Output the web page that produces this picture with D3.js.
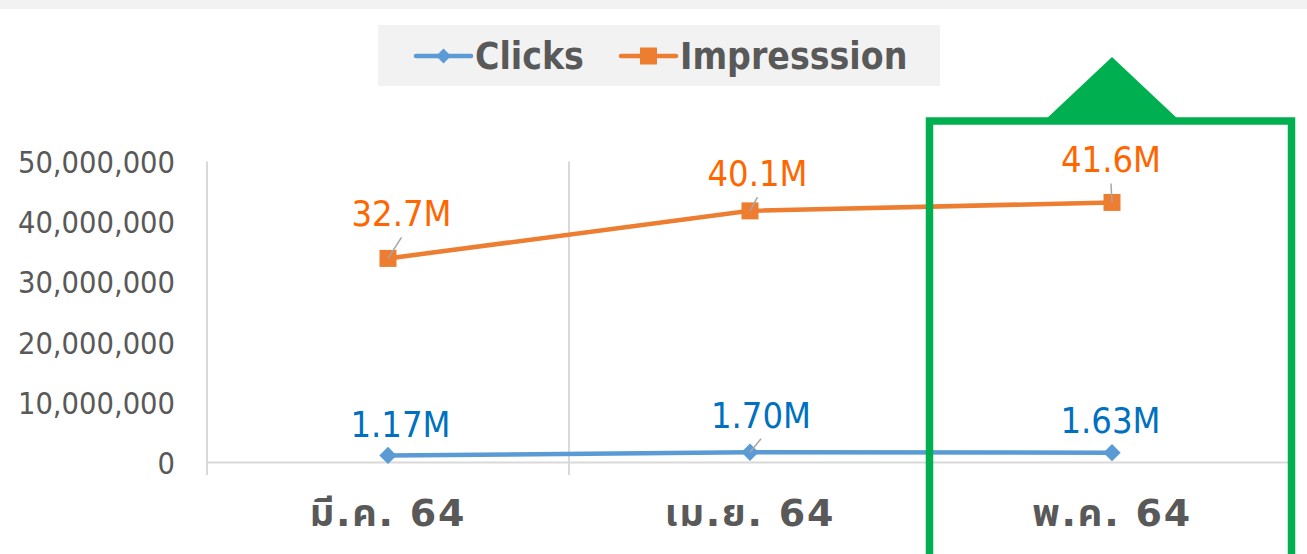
<!DOCTYPE html>
<html>
<head>
<meta charset="utf-8">
<script src="https://cdn.jsdelivr.net/npm/d3@7/dist/d3.min.js"></script>
<style>
  body { margin: 0; background: #fff; }
  svg { display: block; }
  .cond { font-family: "DejaVu Sans Condensed", "DejaVu Sans", sans-serif; font-stretch: condensed; }
</style>
</head>
<body>
<div class="chart"></div>
<script>
// DATA
const categories = ["มี.ค. 64", "เม.ย. 64", "พ.ค. 64"];
const clicks = [1170000, 1700000, 1630000];
const impressions = [33900000, 41800000, 43200000];
const clickLabels = ["1.17M", "1.70M", "1.63M"];
const impressionLabels = ["32.7M", "40.1M", "41.6M"];
const yTicks = [0, 10000000, 20000000, 30000000, 40000000, 50000000];
const seriesNames = ["Clicks", "Impresssion"];
const highlighted = "พ.ค. 64";

// label placement (offset from marker), leader line yes/no
const clickLabelPos = [[12.5, -18, false], [11, -24.6, true], [-1.5, -19.4, false]];
const imprLabelPos = [[13.5, -32, true], [7.5, -24.7, true], [-1, -30, true]];

const W = 1307, H = 554;
const blue = "#5b9bd5", orange = "#ed7d31";
const grid = "#d9d9d9", txt = "#595959";

let svg = d3.select(".chart").append("svg")
    .attr("width", W).attr("height", H);

// top grey band
svg.append("rect").attr("x", 0).attr("y", 0).attr("width", W).attr("height", 9).attr("fill", "#f2f2f2");

let xScale = d3.scaleBand().domain(categories).range([207, 1293]);
let yScale = d3.scaleLinear().domain([0, 50000000]).range([462.5, 161.5]);
let cx = d => xScale(d) + xScale.bandwidth() / 2;

// y axis labels
let yAxis = d3.axisLeft(yScale).tickValues(yTicks).tickSize(0).tickPadding(0)
    .tickFormat(d3.format(","));
let yAxisGroup = svg.append("g").attr("transform", "translate(175,0)").call(yAxis);
yAxisGroup.select(".domain").remove();
yAxisGroup.selectAll("text")
    .attr("class", "cond")
    .attr("font-size", 30.5)
    .attr("fill", txt)
    .attr("dy", "0.36em");

// vertical category lines (left axis + separators)
let bounds = categories.map(c => xScale(c));
svg.append("g").selectAll("line")
    .data(bounds)
    .join("line")
    .attr("x1", d => d).attr("x2", d => d)
    .attr("y1", 161.5).attr("y2", 475)
    .attr("stroke", grid).attr("stroke-width", 2);
// right edge tick
svg.append("line")
    .attr("x1", xScale.range()[1]).attr("x2", xScale.range()[1])
    .attr("y1", 462.5).attr("y2", 475)
    .attr("stroke", grid).attr("stroke-width", 2);

// x baseline
svg.append("line")
    .attr("x1", xScale.range()[0]).attr("x2", xScale.range()[1])
    .attr("y1", yScale(0)).attr("y2", yScale(0))
    .attr("stroke", grid).attr("stroke-width", 2);

// x axis labels
let xAxis = d3.axisBottom(xScale).tickSize(0).tickPadding(0);
let xAxisGroup = svg.append("g").attr("transform", "translate(0,525.5)").call(xAxis);
xAxisGroup.select(".domain").remove();
xAxisGroup.selectAll("text")
    .attr("dy", 0)
    .attr("font-family", "Tahoma, 'DejaVu Sans', 'Noto Sans Thai', sans-serif")
    .attr("font-weight", "bold")
    .attr("font-size", 38)
    .attr("letter-spacing", 1.8)
    .attr("fill", txt);

// lines
let line = d3.line().x((d, i) => cx(categories[i])).y(d => yScale(d));
svg.append("path").datum(impressions)
    .attr("d", line).attr("fill", "none")
    .attr("stroke", orange).attr("stroke-width", 4.5).attr("stroke-linecap", "round");
svg.append("path").datum(clicks)
    .attr("d", line).attr("fill", "none")
    .attr("stroke", blue).attr("stroke-width", 4.5).attr("stroke-linecap", "round");

// markers
svg.append("g").selectAll("rect")
    .data(impressions)
    .join("rect")
    .attr("x", (d, i) => cx(categories[i]) - 8.5)
    .attr("y", d => yScale(d) - 8.5)
    .attr("width", 17).attr("height", 17)
    .attr("fill", orange);
let diamond = d3.symbol().type(d3.symbolSquare).size(150);
svg.append("g").selectAll("path")
    .data(clicks)
    .join("path")
    .attr("d", diamond)
    .attr("transform", (d, i) => `translate(${cx(categories[i])},${yScale(d)}) rotate(45)`)
    .attr("fill", blue);

// data labels
function drawLabels(values, labels, pos, color) {
    let g = svg.append("g");
    values.forEach((v, i) => {
        let mx = cx(categories[i]), my = yScale(v);
        let lx = mx + pos[i][0], ly = my + pos[i][1];
        if (pos[i][2]) {
            g.append("line")
                .attr("x1", mx).attr("y1", my)
                .attr("x2", lx).attr("y2", ly + 11)
                .attr("stroke", "#a6a6a6").attr("stroke-width", 1.5);
        }
        g.append("text")
            .attr("class", "cond")
            .attr("x", lx).attr("y", ly)
            .attr("text-anchor", "middle")
            .attr("font-size", 36)
            .attr("fill", color)
            .text(labels[i]);
    });
}
drawLabels(impressions, impressionLabels, imprLabelPos, "#ff6600");
drawLabels(clicks, clickLabels, clickLabelPos, "#0070c0");

// legend
let legend = svg.append("g");
legend.append("rect").attr("x", 378).attr("y", 25).attr("width", 562).attr("height", 61).attr("fill", "#f2f2f2");
let legendItems = [
    { name: seriesNames[0], x0: 416, color: blue, shape: "diamond", tx: 475 },
    { name: seriesNames[1], x0: 621, color: orange, shape: "square", tx: 680 }
];
legendItems.forEach(it => {
    legend.append("line")
        .attr("x1", it.x0).attr("x2", it.x0 + 55)
        .attr("y1", 56).attr("y2", 56)
        .attr("stroke", it.color).attr("stroke-width", 4.5).attr("stroke-linecap", "round");
    if (it.shape == "diamond") {
        legend.append("path").attr("d", d3.symbol().type(d3.symbolSquare).size(110))
            .attr("transform", `translate(${it.x0 + 27.5},56) rotate(45)`)
            .attr("fill", it.color);
    } else {
        legend.append("rect").attr("x", it.x0 + 27.5 - 8.5).attr("y", 47.5)
            .attr("width", 17).attr("height", 17).attr("fill", it.color);
    }
    legend.append("text")
        .attr("class", "cond")
        .attr("x", it.tx).attr("y", 68.5)
        .attr("font-size", 37).attr("font-weight", "bold")
        .attr("fill", txt)
        .text(it.name);
});

// highlight box around the last month
let hx = xScale(highlighted), hw = xScale.bandwidth();
svg.append("path")
    .attr("d", d3.line()([[hx + hw / 2 - 68, 121], [hx + hw / 2, 57], [hx + hw / 2 + 68, 121]]) + "Z")
    .attr("fill", "#00b050");
svg.append("rect")
    .attr("x", hx - 1.5).attr("y", 121)
    .attr("width", hw).attr("height", 460)
    .attr("fill", "none")
    .attr("stroke", "#00b050").attr("stroke-width", 7.5);
</script>
</body>
</html>
